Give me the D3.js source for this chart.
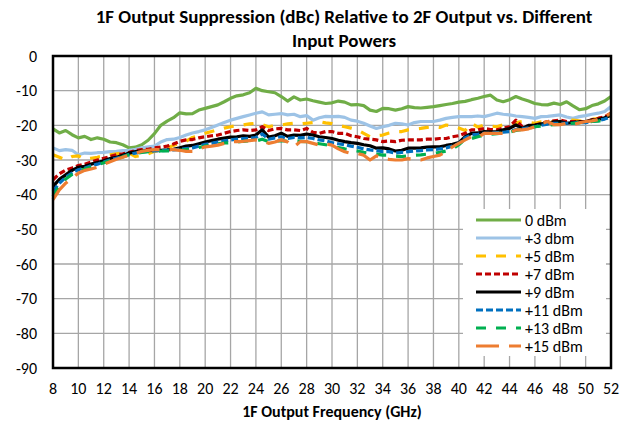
<!DOCTYPE html>
<html>
<head>
<meta charset="utf-8">
<script src="https://cdn.jsdelivr.net/npm/d3@7"></script>
<style>
  body { margin: 0; background: #fff; }
  svg { display: block; font-family: Carlito, Lato, "Open Sans", sans-serif; }
</style>
</head>
<body>
<div id="chart"></div>
<script>
// frequency grid (GHz), one point every 0.5 GHz
const freqs = d3.range(8, 52.01, 0.5)

const xTicks = d3.range(8, 53, 2)
const yTicks = [0, -10, -20, -30, -40, -50, -60, -70, -80, -90]

const p0 = [-21,-22.2,-21.5,-22.7,-23.6,-23.2,-24.1,-23.6,-24,-24.8,-25,-25.6,-26.5,-26.3,-25.6,-24.3,-22.4,-20,-18.8,-17.8,-16.4,-16.7,-16.6,-15.6,-15.1,-14.6,-14.1,-13.2,-12.2,-11.5,-11.2,-10.6,-9.3,-10,-10.3,-10.6,-11.7,-13,-11.8,-12.7,-12.4,-12.9,-13.3,-13.7,-13.5,-13,-13.3,-14.1,-14,-14.3,-15.6,-16,-15.1,-15.2,-15.6,-15.2,-14.6,-14.9,-15,-14.8,-14.6,-14.3,-14,-13.7,-13.3,-13.1,-12.6,-12.2,-11.7,-11.3,-12.7,-13.2,-12.6,-11.7,-12.4,-13,-13.7,-14,-14.1,-13.6,-14,-13.2,-14.4,-15.5,-15.2,-14.3,-13.8,-13,-11.7]
const p3 = [-26.5,-27.3,-27,-27.2,-28.5,-28,-28.1,-27.9,-27.8,-27.6,-27.5,-27.3,-27.2,-26.9,-26.5,-26.2,-26,-24.8,-24.1,-24,-23.5,-22.8,-22.2,-21.8,-21.3,-20.6,-19.9,-19.2,-18.5,-18,-17.5,-17,-16.5,-16.1,-17,-16.8,-16.6,-17,-16.8,-17.5,-17.2,-18.5,-17.8,-17.4,-17.5,-17.4,-17.7,-18.5,-18.8,-19.4,-20.2,-20.9,-20.4,-20,-19.4,-19.6,-19.9,-19.2,-18.9,-18.9,-18.9,-18.5,-18,-17.7,-17.5,-17.5,-17.5,-17.3,-17.5,-17,-16.5,-16.8,-17,-17.3,-17.5,-17.7,-18,-17.5,-17.4,-17.2,-17,-17.6,-18,-17.5,-17.2,-16.8,-16.5,-16,-14.6]
const p5 = [-28.5,-29.2,-30,-29,-28.8,-29.8,-29.5,-29.2,-28.8,-28.5,-28.2,-28,-28,-29,-28.7,-28.2,-27.5,-27.2,-26.5,-25.8,-25.1,-24.6,-23.5,-23,-22.3,-21.8,-21.3,-20.8,-20.4,-20.1,-19.9,-19.6,-19.4,-19.8,-20.4,-20,-19.9,-19.6,-19.4,-19.6,-19.4,-19.2,-18.9,-19.3,-19.5,-20,-20.4,-20.8,-21.3,-22.3,-23.3,-23,-22.8,-22.2,-21.8,-21.8,-21.3,-21.1,-20.9,-20.6,-20.4,-20.6,-19.9,-20.2,-20.8,-21.5,-19.4,-20.5,-19.9,-20.2,-20.4,-19.8,-19.9,-19.2,-18.9,-19.2,-19.4,-19,-18.9,-18.9,-18.9,-18.7,-18.5,-18.7,-18.9,-18.3,-18,-17.3,-16.5]
const p7 = [-35.7,-34,-32.9,-32.3,-31.6,-31.2,-30.6,-30,-29.5,-29,-28.5,-28.2,-27.8,-27.3,-27,-26.9,-26.5,-26.3,-26,-25.4,-24.6,-24.2,-24.1,-23.6,-23.3,-23,-22.8,-22.3,-21.8,-21.5,-21.3,-21.5,-21.3,-20.4,-21.5,-21,-20.9,-21.3,-21.3,-21.5,-20.9,-22,-22.3,-21.8,-21.8,-22.3,-22.3,-23,-23.3,-23.8,-24,-24.2,-24.7,-24.5,-24.7,-24.3,-24.2,-24.2,-24.2,-24,-24,-23.8,-23.8,-23.3,-23,-22.3,-21.3,-21.3,-20.9,-21.2,-21.3,-20.8,-20.4,-18.5,-20.4,-20.2,-19.9,-19.5,-18.9,-18.7,-18.5,-18.9,-18.9,-18.9,-18.9,-18.4,-18,-17.5,-16.5]
const p9 = [-37.6,-35.6,-34.3,-33,-32.1,-31.8,-31.2,-30.7,-30.2,-29.6,-29.2,-28.6,-28,-27.6,-27.4,-27.3,-27.2,-27.2,-27.1,-26.9,-26.5,-26,-25.8,-25.3,-24.8,-24.4,-24,-23.7,-23.4,-23.3,-23,-23.2,-22.8,-21.3,-23.4,-23,-22.3,-23.2,-22.8,-22.9,-22.5,-22.8,-23.3,-23.5,-23.8,-24.3,-24.7,-25,-25.2,-25.6,-25.9,-26.6,-26.5,-26.8,-27.4,-27.2,-26.6,-26.6,-26.5,-26.3,-26.2,-26.2,-25.8,-25.5,-25,-23.3,-22.3,-22.2,-21.8,-21.9,-21.8,-21.3,-20.9,-19.9,-20.9,-20,-19.9,-19.6,-19.4,-19,-18.9,-19.4,-19.2,-19,-18.9,-18.5,-18.3,-17.8,-17.1]
const p11 = [-39,-36.7,-35,-33.8,-32.8,-32.3,-31.7,-31.2,-30.6,-30,-29.5,-29,-28.4,-28,-27.7,-27.5,-27.4,-27.3,-27.2,-27.1,-26.9,-26.7,-26.5,-26,-25.5,-25.2,-24.8,-24.5,-24.2,-24,-23.8,-23.7,-23.5,-22.5,-24,-23.6,-23.3,-23.8,-23.5,-23.6,-23.5,-23.8,-24.2,-24.5,-25,-25.3,-25.6,-26,-26.3,-26.8,-27.1,-27.3,-27.6,-27.6,-28,-27.8,-27.6,-27.4,-27.3,-27.1,-27,-26.8,-26.5,-26,-25.2,-23.6,-22.8,-22.6,-22.3,-22.3,-22.1,-22,-21.8,-21.2,-21,-20.7,-20.4,-20,-19.7,-19.4,-19.4,-19.4,-19.4,-19.2,-19.2,-18.9,-18.6,-18.2,-17.5]
const p13 = [-40.5,-37.5,-35.5,-34.2,-33.2,-32.6,-32,-31.4,-30.8,-30.2,-29.7,-29.1,-28.5,-28.1,-27.8,-27.6,-27.5,-27.4,-27.4,-27.3,-27.2,-27,-26.8,-26.4,-26,-25.6,-25.3,-25.1,-25,-24.8,-24.6,-24.5,-24.5,-24,-24.7,-24.5,-24.4,-24.6,-24.5,-24.6,-24.7,-25,-25.3,-25.6,-26,-26.4,-26.8,-27.1,-27.4,-27.8,-28.1,-28.3,-28.6,-28.6,-28.9,-29,-28.8,-28.6,-28.5,-28.3,-28.1,-27.8,-27.4,-26.8,-25.6,-24,-23.8,-23.3,-22.8,-22.6,-22.4,-22.2,-22,-21.5,-21.2,-20.9,-20.4,-20.2,-20,-19.8,-19.7,-19.6,-19.4,-19.3,-19.1,-18.9,-18.8,-18.3,-17.5]
const p15 = [-41.4,-38.6,-36.7,-35.2,-33.8,-33,-32.6,-32.1,-31.2,-30.5,-29.8,-29.2,-28.6,-28,-27.5,-27.2,-27,-27,-27,-27,-27.2,-27.5,-27.5,-26.8,-26.2,-26,-25.7,-25.2,-24.7,-24.7,-24.6,-24.4,-24.2,-24.5,-25.2,-24.8,-24.2,-24.8,-26.2,-24.7,-24.7,-25.2,-25.7,-25.3,-25.7,-26.8,-27.6,-28.1,-28.1,-28.6,-30,-28.8,-29.5,-29.8,-30,-30,-29.6,-29.8,-30,-29.4,-29,-28.6,-27.6,-26.2,-25.2,-24.2,-23.3,-23.5,-22.3,-22.3,-22.3,-22.3,-22.3,-21.3,-21.3,-21,-20.4,-19.5,-18.9,-19.8,-19.8,-19.4,-19.8,-19.3,-18.9,-18.7,-18.3,-17.6,-16.5]

const seriesNames = ['0 dBm', '+3 dbm', '+5 dBm', '+7 dBm', '+9 dBm', '+11 dBm', '+13 dBm', '+15 dBm']
const seriesValues = [p0, p3, p5, p7, p9, p11, p13, p15]
const colors = ['#70AD47', '#9DC3E6', '#FFC000', '#C00000', '#000000', '#0070C0', '#00B050', '#ED7D31']
const dashes = [null, null, '10,10', '6,3', null, '7,3', '10,10', '23,10']

const width = 636
const height = 423
const margin = { top: 56, right: 25, bottom: 55, left: 53 }

const svg = d3.select('#chart').append('svg').attr('width', width).attr('height', height)

const x = d3.scaleLinear().domain([8, 52]).range([margin.left, width - margin.right])
const y = d3.scaleLinear().domain([-90, 0]).range([height - margin.bottom, margin.top])

// grid
svg.append('g')
    .selectAll('line')
    .data(xTicks)
    .join('line')
    .attr('x1', d => x(d)).attr('x2', d => x(d))
    .attr('y1', y(0)).attr('y2', y(-90))
    .attr('stroke', '#a6a6a6').attr('stroke-width', 1.3)
svg.append('g')
    .selectAll('line')
    .data(yTicks)
    .join('line')
    .attr('x1', x(8)).attr('x2', x(52))
    .attr('y1', d => y(d)).attr('y2', d => y(d))
    .attr('stroke', '#a6a6a6').attr('stroke-width', 1.3)

// series
const line = d3.line()
    .x((d, i) => x(freqs[i]))
    .y(d => y(d))

svg.append('g')
    .selectAll('path')
    .data(seriesValues)
    .join('path')
    .attr('d', line)
    .attr('fill', 'none')
    .attr('stroke', (d, i) => colors[i])
    .attr('stroke-width', 3.2)
    .attr('stroke-dasharray', (d, i) => dashes[i])
    .attr('stroke-linejoin', 'round')

// plot border
svg.append('rect')
    .attr('x', x(8)).attr('y', y(0))
    .attr('width', x(52) - x(8)).attr('height', y(-90) - y(0))
    .attr('fill', 'none').attr('stroke', '#000').attr('stroke-width', 2.5)

// tick labels
svg.append('g')
    .style('font-size', '16px')
    .selectAll('text')
    .data(yTicks)
    .join('text')
    .attr('x', 37)
    .attr('y', d => y(d))
    .attr('dy', '0.35em')
    .attr('text-anchor', 'end')
    .text(d => d)
svg.append('g')
    .style('font-size', '16px')
    .selectAll('text')
    .data(xTicks)
    .join('text')
    .attr('x', d => x(d))
    .attr('y', 394)
    .attr('text-anchor', 'middle')
    .text(d => d)

// titles
svg.append('text')
    .attr('x', 344).attr('y', 23)
    .attr('text-anchor', 'middle')
    .style('font-size', '19px').style('font-weight', 'bold')
    .text('1F Output Suppression (dBc) Relative to 2F Output vs. Different')
svg.append('text')
    .attr('x', 344).attr('y', 47)
    .attr('text-anchor', 'middle')
    .style('font-size', '19px').style('font-weight', 'bold')
    .text('Input Powers')
svg.append('text')
    .attr('x', (x(8) + x(52)) / 2).attr('y', 417)
    .attr('text-anchor', 'middle')
    .style('font-size', '16px').style('font-weight', 'bold')
    .text('1F Output Frequency (GHz)')

// legend
const legend = svg.append('g')
legend.append('rect')
    .attr('x', 463).attr('y', 209).attr('width', 143).attr('height', 147)
    .attr('fill', '#fff')
const rows = legend.selectAll('g')
    .data(seriesNames)
    .join('g')
    .attr('transform', (d, i) => `translate(476,${220 + i * 18})`)
rows.append('line')
    .attr('x1', 0).attr('x2', 45)
    .attr('stroke', (d, i) => colors[i])
    .attr('stroke-width', 3)
    .attr('stroke-dasharray', (d, i) => dashes[i])
rows.append('text')
    .attr('x', 49)
    .attr('dy', '0.35em')
    .style('font-size', '16px')
    .text(d => d)
</script>
</body>
</html>
